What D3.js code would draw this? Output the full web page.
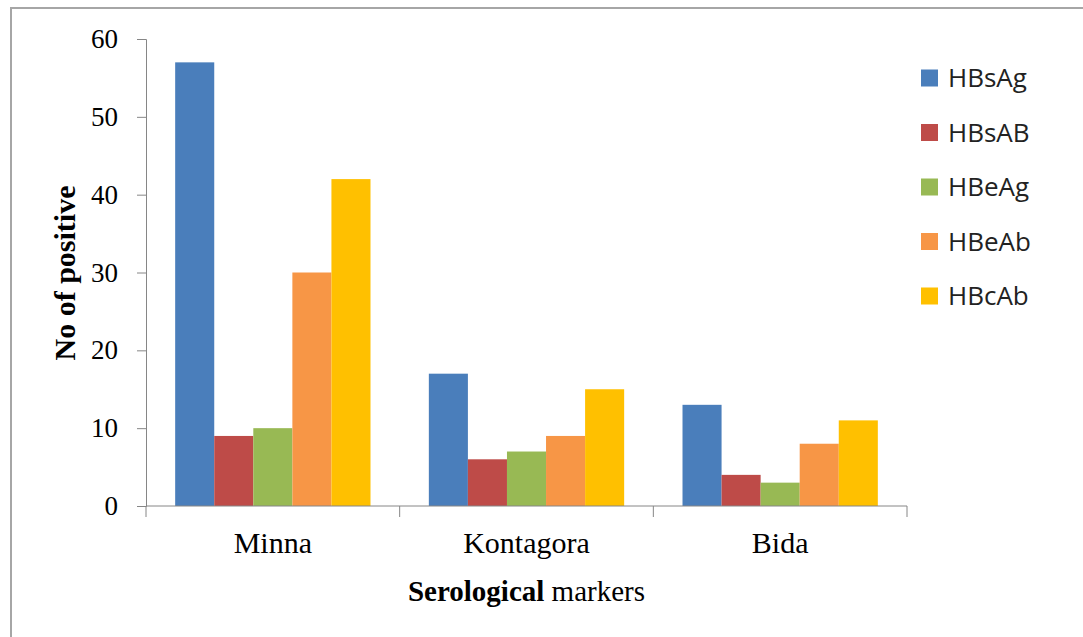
<!DOCTYPE html>
<html>
<head>
<meta charset="utf-8">
<script src="https://d3js.org/d3.v7.min.js"></script>
<style>
  body { margin: 0; background: #fff; }
  .tick text { font-family: "Liberation Serif", "Times New Roman", serif; fill: #000; }
  .legend text { font-family: "Open Sans", sans-serif; font-size: 26px; fill: #222; }
</style>
</head>
<body>
<div id="chart"></div>
<script>
// data
var places = ["Minna", "Kontagora", "Bida"];
var markers = ["HBsAg", "HBsAB", "HBeAg", "HBeAb", "HBcAb"];
var HBsAg = [57, 17, 13];
var HBsAB = [9, 6, 4];
var HBeAg = [10, 7, 3];
var HBeAb = [30, 9, 8];
var HBcAb = [42, 15, 11];
var yTicks = [0, 10, 20, 30, 40, 50, 60];
var colors = ["#4a7ebb", "#be4b48", "#98b954", "#f79646", "#ffc000"];

var series = [HBsAg, HBsAB, HBeAg, HBeAb, HBcAb];
var rows = places.map(function(p, i) {
  return { place: p, values: markers.map(function(m, j) { return { key: m, value: series[j][i] }; }) };
});

var W = 1083, H = 637;
var margin = { top: 39, left: 146, right: 176, bottom: 131 };
var width = W - margin.left - margin.right,
    height = H - margin.top - margin.bottom;

var svg = d3.select("#chart").append("svg")
  .attr("width", W).attr("height", H);

// outer frame (right and bottom edges fall outside the picture)
svg.append("rect")
  .attr("x", 11).attr("y", 8)
  .attr("width", W + 20).attr("height", H + 20)
  .attr("fill", "none").attr("stroke", "#a6a6a6").attr("stroke-width", 2);

var g = svg.append("g").attr("transform", "translate(" + margin.left + "," + margin.top + ")");

var x0 = d3.scaleBand().domain(places).range([0, width]).paddingInner(0.23).paddingOuter(0.115);
var x1 = d3.scaleBand().domain(markers).range([0, x0.bandwidth()]);
var y = d3.scaleLinear().domain([0, 60]).range([height, 0]);
var color = d3.scaleOrdinal().domain(markers).range(colors);

// bars
g.selectAll(".group")
  .data(rows)
  .enter().append("g")
  .attr("class", "group")
  .attr("transform", function(d) { return "translate(" + x0(d.place) + ",0)"; })
  .selectAll("rect")
  .data(function(d) { return d.values; })
  .enter().append("rect")
  .attr("x", function(d) { return x1(d.key); })
  .attr("y", function(d) { return y(d.value); })
  .attr("width", x1.bandwidth())
  .attr("height", function(d) { return height - y(d.value); })
  .attr("fill", function(d) { return color(d.key); });

// y axis
var yAxis = g.append("g")
  .call(d3.axisLeft(y).tickValues(yTicks).tickSize(9).tickPadding(19));
yAxis.selectAll("text").style("font-size", "27px");
yAxis.selectAll("line, path").attr("stroke", "#868686");

// x axis: ticks at the category boundaries
var xAxis = g.append("g").attr("transform", "translate(0," + height + ")");
xAxis.append("line")
  .attr("x1", 0).attr("x2", width)
  .attr("stroke", "#868686");
xAxis.selectAll(".xt")
  .data(d3.range(places.length + 1))
  .enter().append("line")
  .attr("x1", function(i) { return i * width / places.length; })
  .attr("x2", function(i) { return i * width / places.length; })
  .attr("y1", 0).attr("y2", 11)
  .attr("stroke", "#868686");
xAxis.selectAll(".cat")
  .data(places)
  .enter().append("text")
  .attr("x", function(d) { return x0(d) + x0.bandwidth() / 2; })
  .attr("y", 47)
  .attr("text-anchor", "middle")
  .style("font-family", "Liberation Serif, serif")
  .style("font-size", "30px")
  .text(function(d) { return d; });

// axis titles
var xTitle = g.append("text")
  .attr("x", width / 2).attr("y", height + 95)
  .attr("text-anchor", "middle")
  .style("font-family", "Liberation Serif, serif")
  .style("font-size", "29px");
xTitle.append("tspan").style("font-weight", "bold").text("Serological");
xTitle.append("tspan").text(" markers");

g.append("text")
  .attr("transform", "translate(" + (75 - margin.left) + "," + (273 - margin.top) + ")rotate(-90)")
  .attr("text-anchor", "middle")
  .style("font-family", "Liberation Serif, serif")
  .style("font-size", "30px")
  .style("font-weight", "bold")
  .text("No of positive");

// legend
var legend = svg.append("g").attr("class", "legend")
  .attr("transform", "translate(921,78)");
var item = legend.selectAll("g")
  .data(markers)
  .enter().append("g")
  .attr("transform", function(d, i) { return "translate(0," + (i * 54.5) + ")"; });
item.append("rect")
  .attr("x", 0).attr("y", -8.5)
  .attr("width", 17).attr("height", 17)
  .attr("fill", function(d) { return color(d); });
item.append("text")
  .attr("x", 27).attr("dy", "0.35em")
  .text(function(d) { return d; });
</script>
</body>
</html>
